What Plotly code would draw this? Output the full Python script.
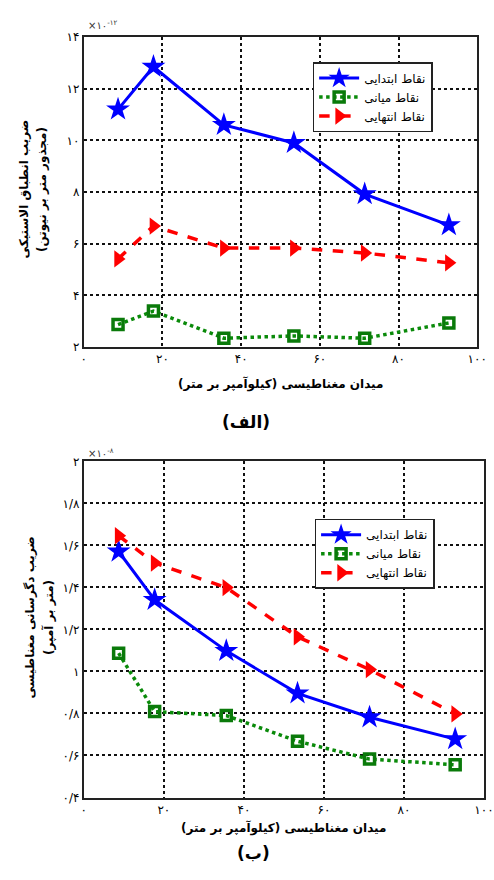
import plotly.graph_objects as go

# ---------------- data ----------------
field = [8.7, 17.7, 35.6, 53.4, 71.4, 92.8]

# (الف) elastic compliance  (x 1e-12)
a_start = [11.2, 12.85, 10.6, 9.9, 7.92, 6.72]
a_mid = [2.87, 3.39, 2.34, 2.43, 2.34, 2.93]
a_end = [5.41, 6.68, 5.83, 5.83, 5.64, 5.26]

# (ب) magnetostriction coefficient (x 1e-8)
b_start = [1.571, 1.341, 1.098, 0.896, 0.782, 0.678]
b_mid = [1.087, 0.809, 0.79, 0.668, 0.583, 0.556]
b_end = [1.646, 1.516, 1.399, 1.165, 1.009, 0.798]

names = ["نقاط ابتدایی", "نقاط میانی", "نقاط انتهایی"]

x_ticks = [0, 20, 40, 60, 80, 100]
x_ticktext = ["۰", "۲۰", "۴۰", "۶۰", "۸۰", "۱۰۰"]
a_yticks = [2, 4, 6, 8, 10, 12, 14]
a_yticktext = ["۲", "۴", "۶", "۸", "۱۰", "۱۲", "۱۴"]
b_yticks = [0.4, 0.6, 0.8, 1.0, 1.2, 1.4, 1.6, 1.8, 2.0]
b_yticktext = ["۰/۴", "۰/۶", "۰/۸", "۱", "۱/۲", "۱/۴", "۱/۶", "۱/۸", "۲"]

x_title = "میدان مغناطیسی (کیلوآمپر بر متر)"
a_ytitle = ["ضریب انطباق الاستیکی", "(مجذور متر بر نیوتن)"]
b_ytitle = ["ضریب دگرسانی مغناطیسی", "(متر بر آمپر)"]

FONT = "DejaVu Sans, Noto Sans, sans-serif"
W, H = 494, 880

fig = go.Figure()

styles = [
    dict(line=dict(color="#0000ff", width=3, dash="solid"),
         marker=dict(symbol="star", size=18, color="#0000ff", line=dict(width=0))),
    dict(line=dict(color="#0a8a0a", width=3.5, dash="dot"),
         marker=dict(symbol="square-open", size=10, color="#0a7a0a", line=dict(width=3.5))),
    dict(line=dict(color="#ff0000", width=3.5, dash="dash"),
         marker=dict(symbol="triangle-right", size=15, color="#ff0000", line=dict(width=0))),
]

for i, ys in enumerate([a_start, a_mid, a_end]):
    fig.add_trace(go.Scatter(x=field, y=ys, mode="lines+markers", name=names[i],
                             xaxis="x", yaxis="y", legend="legend", **styles[i]))
for i, ys in enumerate([b_start, b_mid, b_end]):
    fig.add_trace(go.Scatter(x=field, y=ys, mode="lines+markers", name=names[i],
                             xaxis="x2", yaxis="y2", legend="legend2", **styles[i]))

def py(p):
    return 1 - p / H

def px(p):
    return p / W

axis_common = dict(showline=True, linecolor="#222", linewidth=2, mirror=True,
                   showgrid=True, gridcolor="#111", gridwidth=1.5, griddash="3px,3px",
                   zeroline=False, ticks="", ticklabeloverflow="allow",
                   tickfont=dict(family=FONT, size=12, color="black"))

fig.update_layout(
    width=W, height=H, autosize=False,
    margin=dict(l=0, r=0, t=0, b=0),
    paper_bgcolor="white", plot_bgcolor="white",
    font=dict(family=FONT, color="black"),
    xaxis=dict(domain=[px(83), px(487)], range=[0, 100], anchor="y",
               tickvals=x_ticks, ticktext=x_ticktext, **axis_common),
    yaxis=dict(domain=[py(345.5), py(30.5)], range=[2, 14], anchor="x",
               tickvals=a_yticks, ticktext=a_yticktext, **axis_common),
    xaxis2=dict(domain=[px(83), 1.0], range=[0, 100], anchor="y2",
                tickvals=x_ticks, ticktext=x_ticktext, **axis_common),
    yaxis2=dict(domain=[py(803.3), py(461.7)], range=[0.4, 2.0], anchor="x2",
                tickvals=b_yticks, ticktext=b_yticktext, **axis_common),
    legend=dict(x=px(318), y=py(56), xanchor="left", yanchor="top",
                bgcolor="white", bordercolor="#222", borderwidth=1.5,
                font=dict(family=FONT, size=12, color="black"), itemwidth=40,
                tracegroupgap=0),
    legend2=dict(x=px(320), y=py(520), xanchor="left", yanchor="top",
                 bgcolor="white", bordercolor="#222", borderwidth=1.5,
                 font=dict(family=FONT, size=12, color="black"), itemwidth=40,
                 tracegroupgap=0),
)

ann = []
# exponents
ann.append(dict(text="×۱۰<sup>-۱۲</sup>", x=px(85), y=py(18), xref="paper", yref="paper",
                xanchor="left", yanchor="middle", showarrow=False,
                font=dict(family=FONT, size=10, color="#333")))
ann.append(dict(text="×۱۰<sup>-۸</sup>", x=px(85), y=py(453), xref="paper", yref="paper",
                xanchor="left", yanchor="middle", showarrow=False,
                font=dict(family=FONT, size=10, color="#333")))
# x titles
ann.append(dict(text="<b>" + x_title + "</b>", x=px(285), y=py(383), xref="paper", yref="paper",
                xanchor="center", yanchor="middle", showarrow=False,
                font=dict(family=FONT, size=12)))
ann.append(dict(text="<b>" + x_title + "</b>", x=px(288), y=py(834), xref="paper", yref="paper",
                xanchor="center", yanchor="middle", showarrow=False,
                font=dict(family=FONT, size=12)))
# y titles
ann.append(dict(text="<b>" + a_ytitle[0] + "</b>", x=px(22), y=py(185), xref="paper", yref="paper",
                xanchor="center", yanchor="middle", showarrow=False, textangle=-90,
                font=dict(family=FONT, size=12)))
ann.append(dict(text="<b>" + a_ytitle[1] + "</b>", x=px(40), y=py(185), xref="paper", yref="paper",
                xanchor="center", yanchor="middle", showarrow=False, textangle=-90,
                font=dict(family=FONT, size=12)))
ann.append(dict(text="<b>" + b_ytitle[0] + "</b>", x=px(28), y=py(620), xref="paper", yref="paper",
                xanchor="center", yanchor="middle", showarrow=False, textangle=-90,
                font=dict(family=FONT, size=12)))
ann.append(dict(text="<b>" + b_ytitle[1] + "</b>", x=px(46), y=py(620), xref="paper", yref="paper",
                xanchor="center", yanchor="middle", showarrow=False, textangle=-90,
                font=dict(family=FONT, size=12)))
# panel labels
ann.append(dict(text="<b>(الف)</b>", x=px(250), y=py(422), xref="paper", yref="paper",
                xanchor="center", yanchor="middle", showarrow=False,
                font=dict(family=FONT, size=17)))
ann.append(dict(text="<b>(ب)</b>", x=px(257), y=py(860), xref="paper", yref="paper",
                xanchor="center", yanchor="middle", showarrow=False,
                font=dict(family=FONT, size=17)))
fig.update_layout(annotations=ann)

fig.write_html("out.html")
